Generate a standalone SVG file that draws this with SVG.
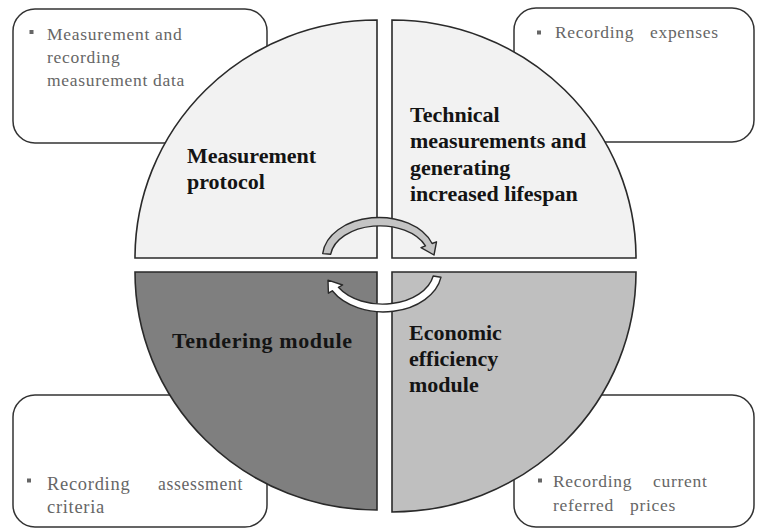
<svg xmlns="http://www.w3.org/2000/svg" width="757" height="528" viewBox="0 0 757 528">
<style>
.box{fill:#fff;stroke:#333;stroke-width:1.5}
.q{stroke:#2a2a2a;stroke-width:1.6}
.bt{font-family:"Liberation Serif",serif;font-size:17.5px;fill:#666;letter-spacing:0.7px}
.bul{fill:#666}
.lbl{font-family:"Liberation Serif",serif;font-size:22px;font-weight:bold;fill:#141414}
.arr{stroke:#2a2a2a;stroke-width:1.4;stroke-linejoin:round}
</style>
<rect width="757" height="528" fill="#fff"/>
<g id="box-tl">
<rect class="box" x="13" y="9" width="254" height="134" rx="22"/>
<rect class="bul" x="29.5" y="30" width="4" height="4"/>
<text class="bt"><tspan x="47" y="40">Measurement and</tspan><tspan x="47" y="63">recording</tspan><tspan x="47" y="86">measurement data</tspan></text>
</g>
<g id="box-tr">
<rect class="box" x="514" y="8" width="240" height="134" rx="22"/>
<rect class="bul" x="537" y="30.5" width="4" height="4"/>
<text class="bt" y="38"><tspan x="555">Recording</tspan><tspan x="650">expenses</tspan></text>
</g>
<g id="box-bl">
<rect class="box" x="13" y="395" width="254" height="132" rx="22"/>
<rect class="bul" x="27" y="478.5" width="4" height="4"/>
<text class="bt" style="font-size:18.5px"><tspan x="47" y="490">Recording</tspan><tspan x="158" y="490" textLength="85" lengthAdjust="spacingAndGlyphs">assessment</tspan><tspan x="47" y="513">criteria</tspan></text>
</g>
<g id="box-br">
<rect class="box" x="514" y="395" width="240" height="132" rx="22"/>
<rect class="bul" x="538" y="478.5" width="4" height="4"/>
<text class="bt"><tspan x="553" y="487">Recording</tspan><tspan x="653" y="487">current</tspan><tspan x="553" y="511">referred</tspan><tspan x="630" y="511">prices</tspan></text>
</g>
<g id="measurement-protocol">
<path class="q" fill="#f2f2f2" d="M377 258 L135 258 A242 238 0 0 1 377 20 Z"/>
<text class="lbl"><tspan x="187" y="163">Measurement</tspan><tspan x="187" y="189">protocol</tspan></text>
</g>
<g id="technical-measurements">
<path class="q" fill="#f2f2f2" d="M392 258 L392 20 A244 238 0 0 1 636 258 Z"/>
<text class="lbl"><tspan x="410" y="122">Technical</tspan><tspan x="410" y="148">measurements and</tspan><tspan x="410" y="175">generating</tspan><tspan x="410" y="201">increased lifespan</tspan></text>
</g>
<g id="tendering-module">
<path class="q" fill="#7f7f7f" d="M377 272 L377 510 A242 238 0 0 1 135 272 Z"/>
<text class="lbl" x="172" y="348" style="letter-spacing:0.6px">Tendering module</text>
</g>
<g id="economic-efficiency">
<path class="q" fill="#bfbfbf" d="M392 272 L636 272 A244 240 0 0 1 392 512 Z"/>
<text class="lbl"><tspan x="409" y="340">Economic</tspan><tspan x="409" y="366">efficiency</tspan><tspan x="409" y="392">module</tspan></text>
</g>
<g id="connectors">
<path class="arr" fill="#c4c4c4" d="M322.7 253.6 A56.5 39.5 0 0 1 432.1 243.5 L436.5 241.8 L434 255 L421 247.6 L425.5 245.9 A49.5 32.5 0 0 0 330.7 254.2 Z"/>
<path class="arr" fill="#ffffff" d="M441 277.2 A58.5 41.5 0 0 1 332.3 290.8 L328.4 293.2 L328 280.2 L342.6 285 L338.4 287.3 A51.5 34.5 0 0 0 433.2 276 Z"/>
</g>
</svg>
